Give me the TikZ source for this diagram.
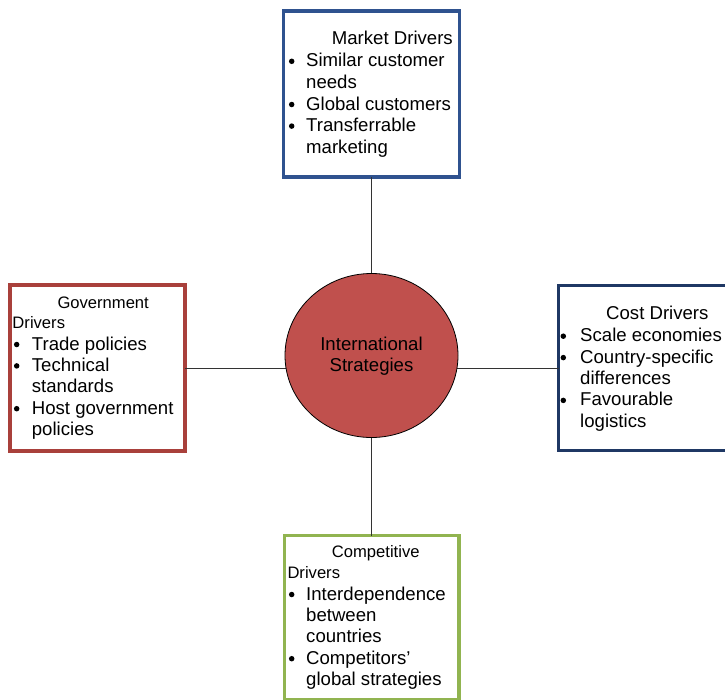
\documentclass[tikz,border=0pt]{standalone}
\usepackage{fontspec}
\setmainfont{Liberation Sans}
\usetikzlibrary{shapes.geometric}
\definecolor{mktblue}{RGB}{47,82,143}
\definecolor{govred}{RGB}{169,64,59}
\definecolor{costnavy}{RGB}{31,56,100}
\definecolor{compgreen}{RGB}{145,180,80}
\definecolor{circred}{RGB}{192,80,77}
\begin{document}
\begin{tikzpicture}[x=1pt,y=-1pt,
  box/.style={draw, line width=3.5pt, fill=white, inner sep=0pt, outer sep=0pt, anchor=north west, rectangle},
  txt/.style={anchor=base west, inner sep=0pt, font=\fontsize{18.6}{21}\selectfont},
  hdr/.style={anchor=base west, inner sep=0pt, font=\fontsize{16.6}{20}\selectfont},
  bul/.style={circle, fill=black, inner sep=0pt, minimum size=5.5pt},
  ctxt/.style={anchor=base, inner sep=0pt, font=\fontsize{18.6}{21}\selectfont},
  conn/.style={draw=black!80, line width=0.9pt}]
\clip (0,0) rectangle (725,699);
\fill[white] (0,0) rectangle (725,699);

% boxes
\node[box, draw=mktblue, minimum width=176pt, minimum height=166pt] (market) at (283.5,11) {};
\node[box, draw=govred, minimum width=175pt, minimum height=166pt] (gov) at (10,285) {};
\node[box, draw=costnavy, minimum width=172pt, minimum height=165pt] (cost) at (558.5,285.5) {};
\node[box, draw=compgreen, minimum width=174.5pt, minimum height=164pt] (comp) at (284.5,535.5) {};

% centre
\coordinate (cc) at (371.5,355.5);
\draw[conn] (market.south) -- (market.south |- cc);
\draw[conn] (comp.north) -- (comp.north |- cc);
\draw[conn] (gov.east) -- (gov.east -| cc);
\draw[conn] (cost.west) -- (cost.west -| cc);
\node[ellipse, draw=black, line width=0.8pt, fill=circred, minimum width=173pt, minimum height=164pt, inner sep=0pt] (circ) at (cc) {};
\node[ctxt] (c1) at (371.5,350) {International};
\node[ctxt] (c2) at (371.5,371.7) {Strategies};

% market text
\node[txt] (m0) at (331.7,44.3) {Market Drivers};
\node[bul] (mb1) at (291.7,61.3) {};
\node[txt] (m1) at (306,66.8) {Similar customer};
\node[txt] (m2) at (306,88.4) {needs};
\node[bul] (mb3) at (291.7,104.5) {};
\node[txt] (m3) at (306,110) {Global customers};
\node[bul] (mb4) at (291.7,126.1) {};
\node[txt] (m4) at (306,131.6) {Transferrable};
\node[txt] (m5) at (306,153.2) {marketing};

% government text
\node[hdr] (g0) at (57.3,308.3) {Government};
\node[hdr] (g0b) at (12.3,328.3) {Drivers};
\node[bul] (gb1) at (16.7,344.5) {};
\node[txt] (g1) at (31.7,350) {Trade policies};
\node[bul] (gb2) at (16.7,365.9) {};
\node[txt] (g2) at (31.7,371.4) {Technical};
\node[txt] (g3) at (31.7,392.8) {standards};
\node[bul] (gb4) at (16.7,408.7) {};
\node[txt] (g4) at (31.7,414.2) {Host government};
\node[txt] (g5) at (31.7,435.6) {policies};

% cost text
\node[txt] (k0) at (606,319.3) {Cost Drivers};
\node[bul] (kb1) at (563.3,336.2) {};
\node[txt] (k1) at (580,341.7) {Scale economies};
\node[bul] (kb2) at (563.3,357.6) {};
\node[txt] (k2) at (580,363.1) {Country-specific};
\node[txt] (k3) at (580,384.5) {differences};
\node[bul] (kb4) at (563.3,400.4) {};
\node[txt] (k4) at (580,405.9) {Favourable};
\node[txt] (k5) at (580,427.3) {logistics};

% competitive text
\node[hdr] (p0) at (331.7,557.3) {Competitive};
\node[hdr] (p0b) at (287.3,578.3) {Drivers};
\node[bul] (pb1) at (291.7,594.5) {};
\node[txt] (p1) at (306,600) {Interdependence};
\node[txt] (p2) at (306,621.4) {between};
\node[txt] (p3) at (306,642.8) {countries};
\node[bul] (pb4) at (291.7,658.7) {};
\node[txt] (p4) at (306,664.2) {Competitors’};
\node[txt] (p5) at (306,685.6) {global strategies};
\end{tikzpicture}
\end{document}
